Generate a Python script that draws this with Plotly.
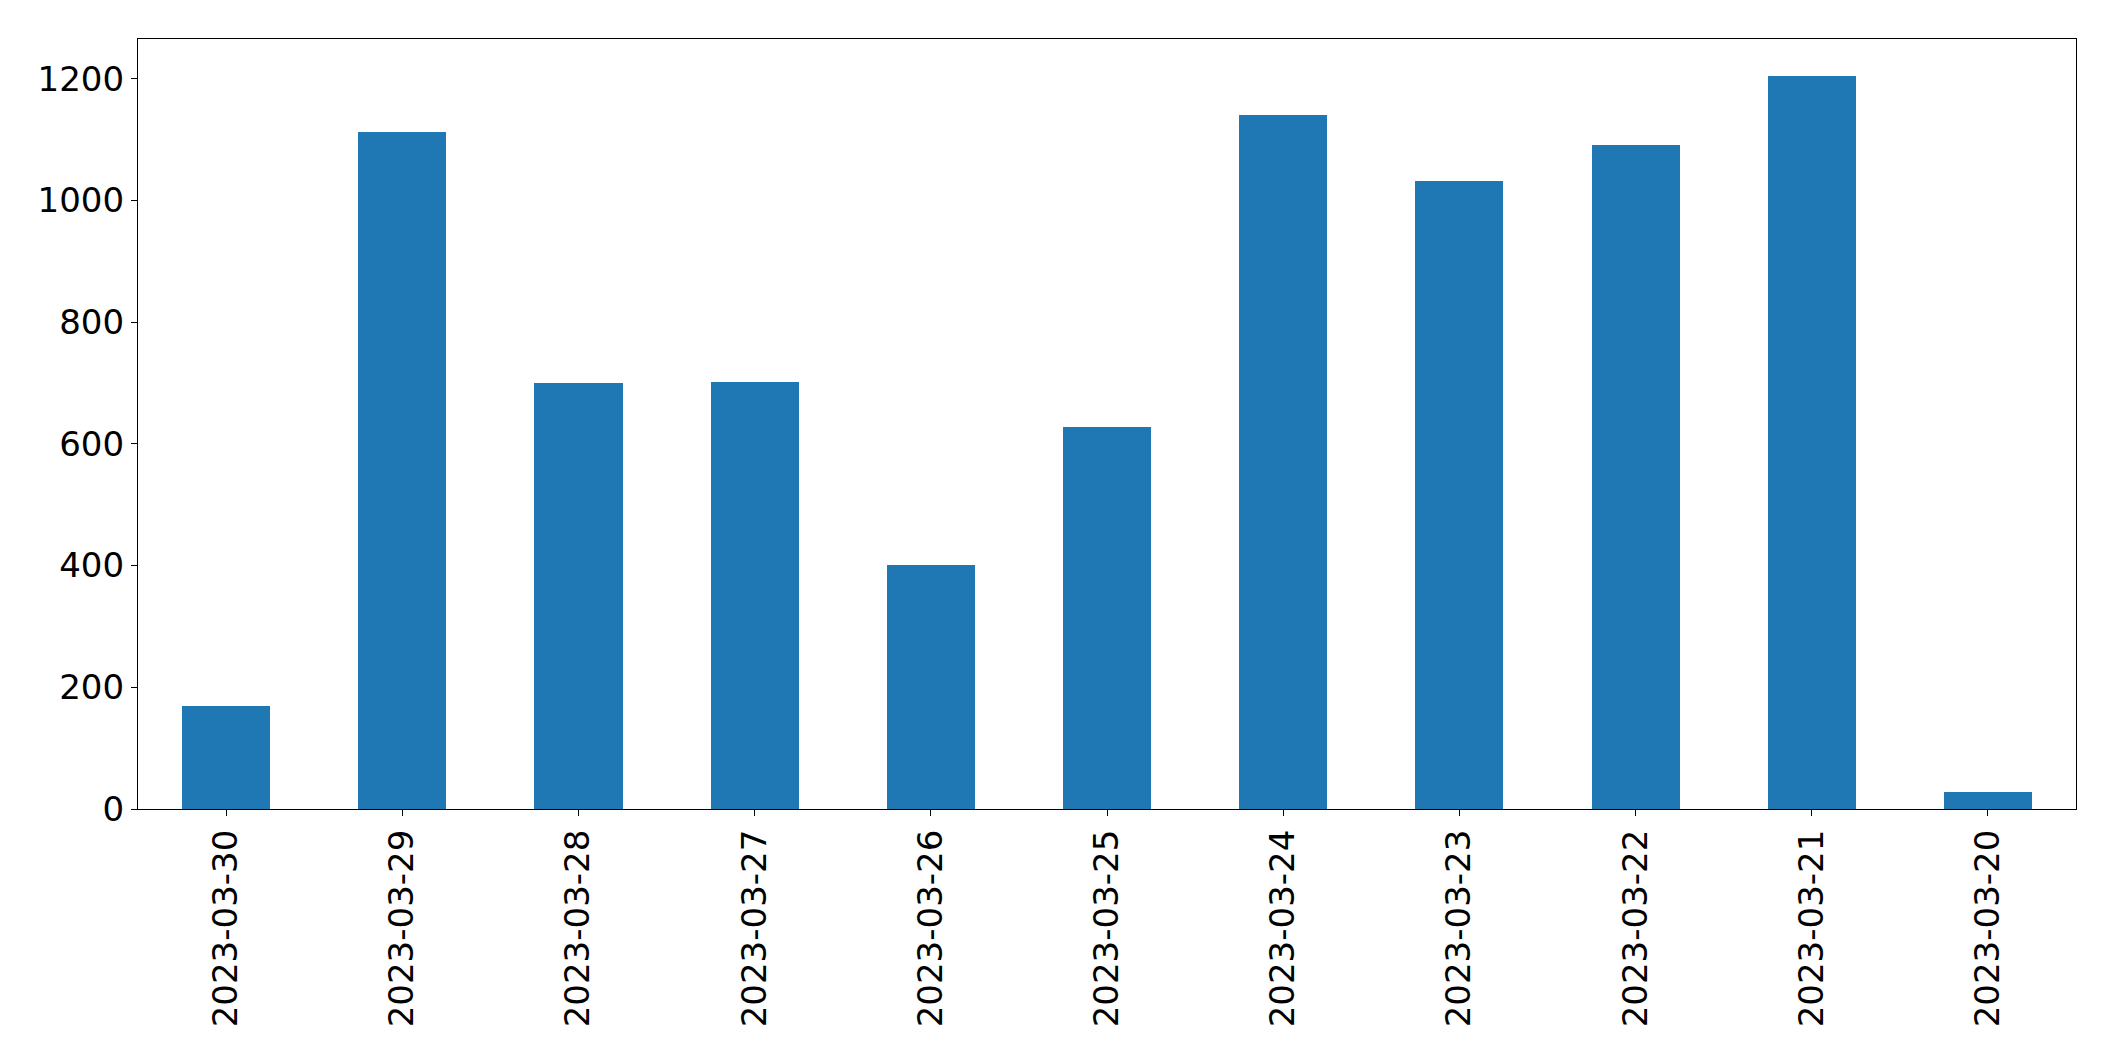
import plotly.graph_objects as go

dates = ["2023-03-30", "2023-03-29", "2023-03-28", "2023-03-27", "2023-03-26",
         "2023-03-25", "2023-03-24", "2023-03-23", "2023-03-22", "2023-03-21",
         "2023-03-20"]
counts = [170, 1113, 700, 702, 401, 627, 1141, 1032, 1091, 1205, 28]
y_ticks = [0, 200, 400, 600, 800, 1000, 1200]

fig = go.Figure()
fig.add_trace(go.Bar(
    x=list(range(len(dates))),
    y=counts,
    width=0.5,
    marker=dict(color="#1f77b4", line=dict(width=0)),
))

font_family = "DejaVu Sans"
fig.update_layout(
    width=2115, height=1061,
    margin=dict(l=138, r=39, t=39, b=252, autoexpand=False),
    paper_bgcolor="white", plot_bgcolor="white",
    showlegend=False,
    font=dict(family=font_family, size=34, color="black"),
    bargap=0,
)
fig.update_xaxes(
    range=[-0.5, len(dates) - 0.5],
    tickmode="array",
    tickvals=list(range(len(dates))),
    ticktext=dates,
    tickangle=-90,
    ticks="outside", ticklen=6, tickwidth=1.2, tickcolor="black",
    showline=True, linecolor="black", linewidth=1.2, mirror=True,
    showgrid=False, zeroline=False,
    tickfont=dict(family=font_family, size=34, color="black"),
)
fig.update_yaxes(
    range=[0, max(counts) * 1.05],
    tickmode="array",
    tickvals=y_ticks,
    ticktext=[str(v) for v in y_ticks],
    ticks="outside", ticklen=6, tickwidth=1.2, tickcolor="black",
    showline=True, linecolor="black", linewidth=1.2, mirror=True,
    showgrid=False, zeroline=False,
    tickfont=dict(family=font_family, size=34, color="black"),
)

fig.write_html("out.html")
